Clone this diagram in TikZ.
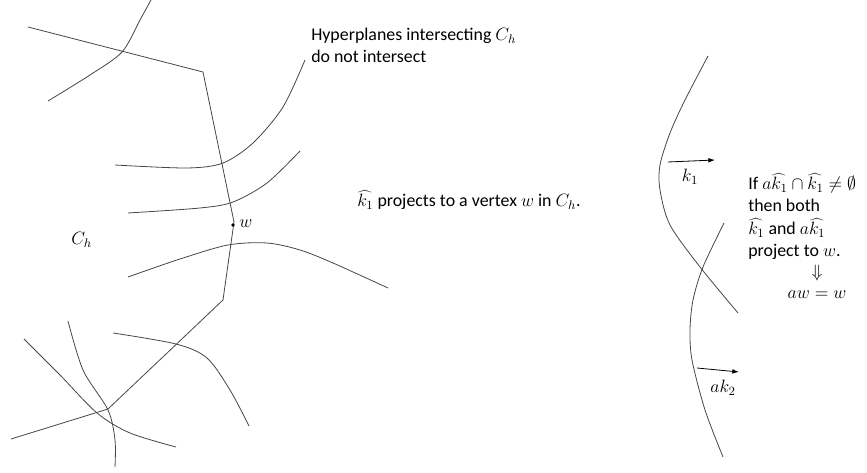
\RequirePackage{fix-cm}
\documentclass[tikz,border=0pt]{standalone}
\usepackage{fontspec}
\setmainfont{Carlito}
\usetikzlibrary{arrows.meta, positioning}
\definecolor{pline}{RGB}{70,70,70}

\begin{document}
\begin{tikzpicture}[x=0.75pt, y=-0.75pt,
  every node/.style={font=\fontsize{13.4}{16.5}\selectfont},
  hyp/.style={pline, line width=0.6pt},
  wall/.style={pline, line width=0.6pt, line join=miter},
  dir/.style={-{Latex[length=5pt, width=3.5pt]}, black, line width=0.6pt},
  lbl/.style={inner sep=0pt, anchor=west},
  txtline/.style={inner sep=0pt, anchor=base west}]
  \useasboundingbox (0,0) rectangle (867,473);

  % boundary of C_h
  \draw[wall] (28,27) -- (203,72) -- (234,222) -- (223,300) -- (108,409) -- (11,439);

  % hyperplanes on the left
  \draw[hyp] plot[smooth] coordinates {(151,0) (140,20) (122,52) (90,75) (48,101)};
  \draw[hyp] plot[smooth] coordinates {(115,165) (187,168) (223,163) (253,143) (283,107) (305,60)};
  \draw[hyp] plot[smooth] coordinates {(128,213) (200,208) (233,202) (267,183) (300,151)};
  \draw[hyp] plot[smooth] coordinates {(128,277) (180,259) (228,245) (267,243) (300,250) (333,263) (388,288)};
  \draw[hyp] plot[smooth] coordinates {(113,333) (176,344) (207,358) (230,390) (249,426)};
  \draw[hyp] plot[smooth] coordinates {(24,339) (60,375) (97,413) (130,433) (176,447)};
  \draw[hyp] plot[smooth] coordinates {(68,321) (83,370) (108,410) (115,440) (115,467)};

  % vertex w
  \fill (233,225) circle (1.4pt);
  \node[lbl] (wlbl) at (239,224) {$w$};
  \node[lbl] (ch) at (71,240) {$C_h$};

  % texts in the middle
  \node[txtline] (hyptxt1) at (311,41) {Hyperplanes intersecting $C_h$};
  \node[txtline] (hyptxt2) at (311,63) {do not intersect};
  \node[txtline] (projtxt) at (357,207) {$\widehat{k_1}$ projects to a vertex $w$ in $C_h$.};

  % the two hyperplanes on the right
  \draw[hyp] plot[smooth] coordinates {(708,56) (685,100) (670,133) (660,165) (660,190) (670,225) (700,267) (738,313)};
  \draw[hyp] plot[smooth] coordinates {(724,223) (703,267) (693,300) (690,330) (692,360) (705,410) (723,457)};

  \coordinate (k1s) at (668,162);
  \coordinate (k1e) at (715,160);
  \draw[dir] (k1s) -- (k1e);
  \node (k1) at (690,177) {$k_1$};
  \coordinate (k2s) at (697,368);
  \coordinate (k2e) at (739,372);
  \draw[dir] (k2s) -- (k2e);
  \node (ak2) at (723,388) {$ak_2$};

  \node[txtline] (if1) at (748,190) {If $a\widehat{k_1}\cap\widehat{k_1}\neq\emptyset$};
  \node[txtline] (if2) at (748,212) {then both};
  \node[txtline] (if3) at (748,235) {$\widehat{k_1}\ \mathrm{and}\ a\widehat{k_1}$};
  \node[txtline] (if4) at (748,257) {project to $w$.};
  \node (imp) at (817,273) {$\Downarrow$};
  \node (aww) at (817,295) {$aw=w$};
\end{tikzpicture}
\end{document}
